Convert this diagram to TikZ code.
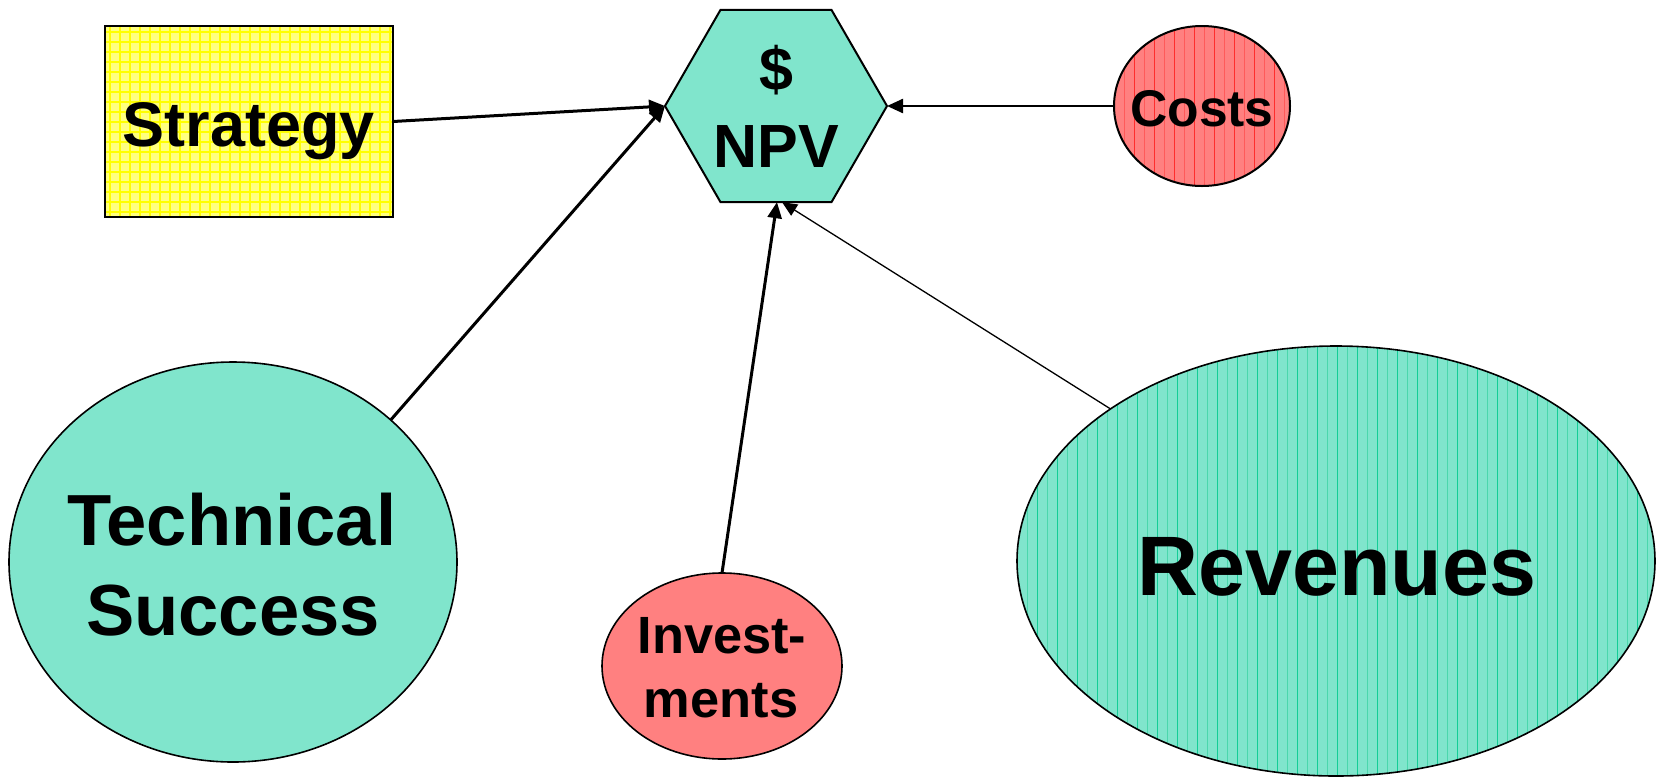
\documentclass[tikz,border=0pt]{standalone}
\usepackage{fontspec}
\setmainfont{Liberation Sans}
\usetikzlibrary{shapes.geometric,arrows.meta}
\definecolor{tealfill}{RGB}{128,229,204}
\definecolor{tealdark}{RGB}{20,205,150}
\definecolor{teallight}{RGB}{75,215,172}
\definecolor{redfill}{RGB}{255,128,128}
\definecolor{reddark}{RGB}{255,45,45}
\definecolor{redlight}{RGB}{255,90,90}
\definecolor{yellowfill}{RGB}{255,255,128}
\definecolor{yellowline}{RGB}{255,255,0}
\tikzset{
  shapebase/.style={draw=black, inner sep=0pt, outer sep=0pt},
  vstripes/.style n args={3}{path picture={
    \foreach \k in {0,...,#1}{
      \draw[#2, line width=0.5pt] ([xshift=\k*10pt]path picture bounding box.south west) -- ([xshift=\k*10pt]path picture bounding box.north west);
      \draw[#3, line width=0.5pt] ([xshift=\k*10pt+5pt]path picture bounding box.south west) -- ([xshift=\k*10pt+5pt]path picture bounding box.north west);
    }}},
  gridfill/.style={path picture={
    \foreach \k in {0,...,30}{
      \draw[yellowline, line width=0.8pt] ([xshift=\k*5pt+2.5pt]path picture bounding box.south west) -- ([xshift=\k*5pt+2.5pt]path picture bounding box.north west);
    }
    \foreach \k in {0,...,20}{
      \draw[yellowline, line width=0.8pt] ([yshift=\k*5pt+2.5pt]path picture bounding box.south west) -- ([yshift=\k*5pt+2.5pt]path picture bounding box.south east);
    }}},
  lbl/.style={inner sep=0pt, anchor=base},
  arr/.style={draw=black, line width=1.5pt, -{Triangle[length=8pt,width=7pt]}},
}
\begin{document}
\begin{tikzpicture}[x=0.5pt, y=-0.5pt]
\useasboundingbox (0,0) rectangle (1656,778);
\fill[white] (0,0) rectangle (1656,778);

% shapes
\node[shapebase, rectangle, line width=1.2pt, fill=yellowfill, gridfill,
      minimum width=144pt, minimum height=95.5pt] (strat) at (249,121.5) {};
\node[shapebase, regular polygon, regular polygon sides=6, minimum size=111pt,
      line width=1pt, fill=tealfill] (npv) at (776,106) {};
\node[shapebase, ellipse, line width=1pt, fill=redfill, vstripes={9}{reddark}{redlight},
      minimum width=88pt, minimum height=80pt] (costs) at (1202,106) {};
\node[shapebase, ellipse, line width=0.8pt, fill=tealfill,
      minimum width=224pt, minimum height=200pt] (tech) at (233,562) {};
\node[shapebase, ellipse, line width=0.8pt, fill=redfill,
      minimum width=120pt, minimum height=93pt] (inv) at (722,666) {};
\node[shapebase, ellipse, line width=0.8pt, fill=tealfill, vstripes={33}{tealdark}{teallight},
      minimum width=319pt, minimum height=215pt] (rev) at (1336,561) {};

% texts
\node[lbl, font=\bfseries\fontsize{30.5pt}{30.5pt}\selectfont] (tdollar) at (776,90) {\$};
\node[lbl, font=\bfseries\fontsize{30.5pt}{30.5pt}\selectfont] (tnpv) at (776,167) {NPV};
\node[lbl, font=\bfseries\fontsize{31.5pt}{31.5pt}\selectfont] (tstrat) at (249,146) {Strategy};
\node[lbl, font=\bfseries\fontsize{25.8pt}{25.8pt}\selectfont] (tcosts) at (1202,126) {Costs};
\node[lbl, font=\bfseries\fontsize{26.2pt}{26.2pt}\selectfont] (tinv1) at (722,653) {Invest-};
\node[lbl, font=\bfseries\fontsize{26.2pt}{26.2pt}\selectfont] (tinv2) at (721,717) {ments};
\node[lbl, font=\bfseries\fontsize{36.2pt}{36.2pt}\selectfont] (ttech1) at (232,545) {Technical};
\node[lbl, font=\bfseries\fontsize{36.2pt}{36.2pt}\selectfont] (ttech2) at (233,635) {Success};
\node[lbl, font=\bfseries\fontsize{42.2pt}{42.2pt}\selectfont] (trev) at (1337,595) {Revenues};

% connectors
\draw[arr] (strat.east) -- (npv.west);
\draw[arr] (tech.42) -- (npv.west);
\draw[arr, line width=1.2pt] (costs.west) -- (npv.east);
\draw[arr] (inv.north) -- ([xshift=0.5pt]npv.south);
\draw[arr, line width=0.65pt, -{Triangle[length=7.5pt,width=6.5pt]}] (rev.146) -- ([xshift=3pt]npv.south);
\end{tikzpicture}
\end{document}
